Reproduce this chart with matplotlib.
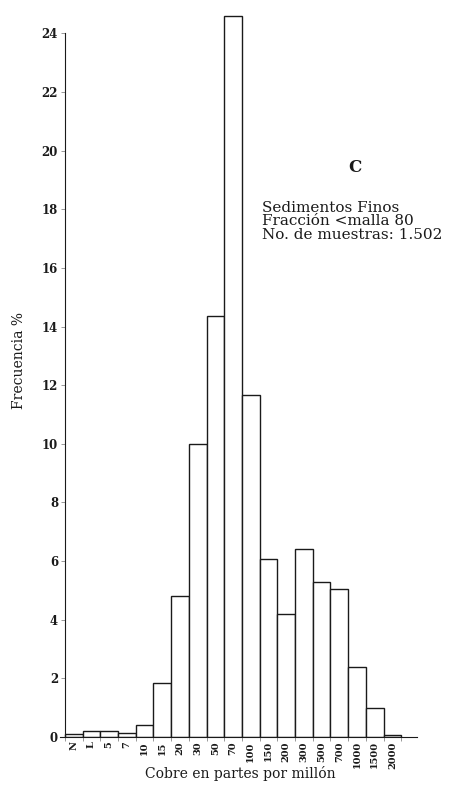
import matplotlib
matplotlib.use("Agg")
import matplotlib.pyplot as plt
import numpy as np

# clases de cobre (ppm) y frecuencia %
clases = ["N", "L", "5", "7", "10", "15", "20", "30", "50", "70", "100",
          "150", "200", "300", "500", "700", "1000", "1500", "2000"]
frecuencia = [0.1, 0.2, 0.2, 0.12, 0.4, 1.85, 4.8, 10.0, 14.35, 24.6, 11.65,
              6.07, 4.2, 6.4, 5.3, 5.06, 2.4, 0.99, 0.06]
yticks = list(range(0, 25, 2))

plt.rcParams['font.family'] = ['DejaVu Serif']
ink = '#1a1a1a'

fig = plt.figure(figsize=(4.59, 7.88), dpi=100)
ax = fig.add_axes([60/459, 51/788, 357/459, 733/788])

x = np.arange(len(clases)) + 0.5
ax.bar(x, frecuencia, width=1.0, facecolor='white', edgecolor=ink, linewidth=1.0)

ax.set_xlim(-0.28, 19.89)
ax.set_ylim(0, 25)

ax.spines['top'].set_visible(False)
ax.spines['right'].set_visible(False)
ax.spines['left'].set_position(('data', 0))
ax.spines['left'].set_bounds(0, 24)
ax.spines['left'].set_color(ink)
ax.spines['bottom'].set_color(ink)

ax.set_yticks(yticks)
ax.set_yticklabels([str(v) for v in yticks], fontweight='bold', fontsize=8.5, color=ink)
ax.tick_params(axis='y', length=3, width=0.6, color='#888888', pad=2)

ax.set_xticks(x)
ax.set_xticklabels(clases, rotation=90, fontweight='bold', fontsize=7, color=ink)
ax.tick_params(axis='x', which='major', length=0, pad=3)
ax.set_xticks(np.arange(len(clases) + 1), minor=True)
ax.tick_params(axis='x', which='minor', length=3, width=0.6, color='#888888')

ax.set_ylabel("Frecuencia %", fontsize=10, color=ink)
ax.yaxis.set_label_coords(-0.095, 0.514)
ax.set_xlabel("Cobre en partes por millón", fontsize=10, color=ink)
ax.xaxis.set_label_coords(0.504, -0.04)

ax.text(355/459, 1 - 168/788, "C", transform=fig.transFigure, fontsize=12,
        fontweight='bold', ha='center', va='center', color=ink)
ax.text(262/459, 1 - 201/788,
        "Sedimentos Finos\nFracción <malla 80\nNo. de muestras: 1.502",
        transform=fig.transFigure, fontsize=11, ha='left', va='top',
        linespacing=0.95, color=ink)

fig.savefig("out.png", dpi=100)
